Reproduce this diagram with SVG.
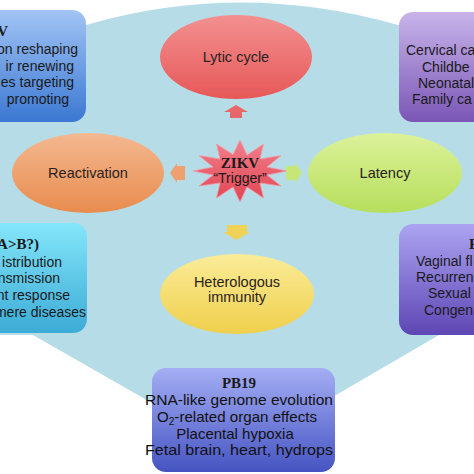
<svg xmlns="http://www.w3.org/2000/svg" width="474" height="474" viewBox="0 0 474 474">
<defs>
<linearGradient id="gTL" x1="0" y1="0" x2="0" y2="1"><stop offset="0" stop-color="#a2c4f5"/><stop offset="1" stop-color="#3b78d2"/></linearGradient>
<linearGradient id="gTR" x1="0" y1="0" x2="0" y2="1"><stop offset="0" stop-color="#c8b4ea"/><stop offset="1" stop-color="#7a56b6"/></linearGradient>
<linearGradient id="gLM" x1="0" y1="0" x2="0" y2="1"><stop offset="0" stop-color="#84e6fa"/><stop offset="1" stop-color="#3cabd6"/></linearGradient>
<linearGradient id="gRM" x1="0" y1="0" x2="0" y2="1"><stop offset="0" stop-color="#aca4f2"/><stop offset="1" stop-color="#5e46b4"/></linearGradient>
<linearGradient id="gPB" x1="0" y1="0" x2="0" y2="1"><stop offset="0" stop-color="#a4aef4"/><stop offset="1" stop-color="#4654c2"/></linearGradient>
<linearGradient id="gLy" x1="0" y1="0" x2="0" y2="1"><stop offset="0" stop-color="#f39090"/><stop offset="1" stop-color="#e75858"/></linearGradient>
<linearGradient id="gRe" x1="0" y1="0" x2="0" y2="1"><stop offset="0" stop-color="#f4b890"/><stop offset="1" stop-color="#e88c4e"/></linearGradient>
<linearGradient id="gLa" x1="0" y1="0" x2="0" y2="1"><stop offset="0" stop-color="#dcf29a"/><stop offset="1" stop-color="#b6de5c"/></linearGradient>
<linearGradient id="gHe" x1="0" y1="0" x2="0" y2="1"><stop offset="0" stop-color="#faec98"/><stop offset="1" stop-color="#efcf4c"/></linearGradient>
<linearGradient id="gSt" x1="0" y1="0" x2="0" y2="1"><stop offset="0" stop-color="#f2808c"/><stop offset="1" stop-color="#e24452"/></linearGradient>
</defs>
<style>
.t{font-family:"Liberation Sans",Arial,sans-serif;font-size:14px;fill:#1a1a1a}
.e{font-family:"Liberation Sans",Arial,sans-serif;font-size:14.5px;fill:#2a2222;text-anchor:middle}
.b{font-family:"Liberation Serif","Times New Roman",serif;font-weight:bold;font-size:15px;fill:#1a1a1a}
.pb{font-family:"Liberation Sans",Arial,sans-serif;font-size:15px;fill:#111;text-anchor:middle}
</style>
<rect width="474" height="474" fill="#ffffff"/>
<path id="background" d="M0,22 L86,25 Q240,-20 398,25 L474,25 L474,335 L439,335 L336,395 L152,403 L33,335 L0,335 Z" fill="#b6dde7"/>

<g id="box-top-left">
<rect x="-20" y="10" width="106" height="112" rx="14" fill="url(#gTL)"/>
<text class="b" x="8" y="36" text-anchor="end">V</text>
<text class="t" x="78" y="54" text-anchor="end">on reshaping</text>
<text class="t" x="74" y="70.5" text-anchor="end">ir renewing</text>
<text class="t" x="74" y="87" text-anchor="end">es targeting</text>
<text class="t" x="69" y="104" text-anchor="end">promoting</text>
</g>

<g id="box-top-right">
<rect x="399" y="12" width="100" height="110" rx="14" fill="url(#gTR)"/>
<text class="t" x="406" y="55">Cervical ca</text>
<text class="t" x="422" y="72">Childbe</text>
<text class="t" x="418" y="88">Neonatal</text>
<text class="t" x="412" y="104">Family ca</text>
</g>

<g id="box-mid-left">
<rect x="-20" y="223" width="107" height="110" rx="14" fill="url(#gLM)"/>
<text class="b" x="39" y="249" text-anchor="end">A&gt;B?)</text>
<text class="t" x="62" y="266.5" text-anchor="end">istribution</text>
<text class="t" x="60" y="283" text-anchor="end">nsmission</text>
<text class="t" x="70" y="300" text-anchor="end">nt response</text>
<text class="t" x="86" y="317" text-anchor="end">mere diseases</text>
</g>

<g id="box-mid-right">
<rect x="399" y="224" width="100" height="111" rx="14" fill="url(#gRM)"/>
<text class="b" x="469" y="249">E</text>
<text class="t" x="416" y="266">Vaginal fl</text>
<text class="t" x="416" y="282">Recurren</text>
<text class="t" x="428" y="298">Sexual</text>
<text class="t" x="424" y="315">Congen</text>
</g>

<g id="box-pb19">
<rect x="152" y="368" width="183" height="104" rx="14" fill="url(#gPB)"/>
<text class="b" x="239" y="388" text-anchor="middle" font-size="14">PB19</text>
<text class="pb" x="239" y="405" textLength="188" lengthAdjust="spacingAndGlyphs">RNA-like genome evolution</text>
<text class="pb" x="237" y="422" textLength="160" lengthAdjust="spacingAndGlyphs">O<tspan font-size="10" dy="3">2</tspan><tspan dy="-3">-related organ effects</tspan></text>
<text class="pb" x="235" y="439">Placental hypoxia</text>
<text class="pb" x="239" y="455" textLength="188" lengthAdjust="spacingAndGlyphs">Fetal brain, heart, hydrops</text>
</g>

<g id="lytic-cycle">
<ellipse cx="236" cy="57" rx="76" ry="42" fill="url(#gLy)"/>
<text class="e" x="236" y="62">Lytic cycle</text>
</g>

<g id="reactivation">
<ellipse cx="88" cy="173" rx="76" ry="40" fill="url(#gRe)"/>
<text class="e" x="88" y="178">Reactivation</text>
</g>

<g id="latency">
<ellipse cx="385" cy="173" rx="77" ry="40" fill="url(#gLa)"/>
<text class="e" x="385" y="178">Latency</text>
</g>

<g id="heterologous-immunity">
<ellipse cx="237" cy="294" rx="77" ry="40" fill="url(#gHe)"/>
<text class="e" x="237" y="287">Heterologous</text>
<text class="e" x="237" y="302">immunity</text>
</g>

<g id="zikv-trigger">
<polygon points="287,171 267,175 281,186 260,183 263.5,198 247,187 240,202 233,187 216.5,198 220,183 199,186 213,175 193,171 213,167 199,155.5 220,159 216.5,144 233,154.6 240,140 247,155 263.5,144 260,159 281,155.5 267,167" fill="url(#gSt)" stroke="#f29aa4" stroke-width="0.8"/>
<text class="b" x="240" y="168" text-anchor="middle" font-size="14">ZIKV</text>
<text class="t" x="240" y="183" text-anchor="middle" font-size="13.5">“Trigger”</text>
</g>

<g id="connectors">
<polygon points="236,105 248,112 242,112 242,118 230,118 230,112 224,112" fill="#e8686a"/>
<polygon points="170,173 177,163 177,166 185,166 185,180 177,180 177,183" fill="#eea070"/>
<polygon points="302,173 295,163 295,166 286,166 286,180 295,180 295,183" fill="#c6e678"/>
<polygon points="227,225 247,225 247,232 250,232 236.5,240 223,232 227,232" fill="#f0d256"/>
</g>
</svg>
